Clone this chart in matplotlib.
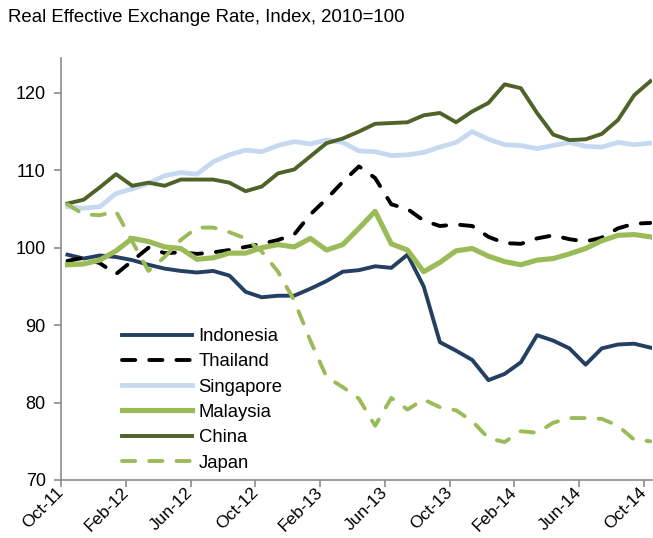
import numpy as np
import matplotlib
matplotlib.use("Agg")
import matplotlib.pyplot as plt

plt.rcParams["font.family"] = ["Liberation Sans", "DejaVu Sans"]

# monthly index values, Oct-11 .. Oct-14
tick_labels = ["Oct-11", "Feb-12", "Jun-12", "Oct-12", "Feb-13", "Jun-13",
               "Oct-13", "Feb-14", "Jun-14", "Oct-14"]

indonesia = [99.1, 98.6, 99.0, 98.8, 98.4, 97.8, 97.3, 97.0, 96.8, 97.0,
             96.4, 94.3, 93.6, 93.8, 93.8, 94.7, 95.7, 96.9, 97.1, 97.6,
             97.4, 99.1, 95.0, 87.8, 86.7, 85.5, 82.9, 83.7, 85.2, 88.7,
             88.0, 87.0, 84.9, 87.0, 87.5, 87.6, 87.1]
thailand = [98.3, 98.7, 98.0, 96.6, 98.3, 100.0, 99.3, 99.4, 99.2, 99.4,
            99.7, 100.1, 100.5, 101.0, 101.7, 104.3, 106.3, 108.5, 110.5, 109.0,
            105.6, 105.0, 103.5, 102.8, 103.0, 102.8, 101.4, 100.6, 100.5, 101.2,
            101.6, 101.1, 100.8, 101.3, 102.5, 103.1, 103.2]
singapore = [105.3, 105.1, 105.3, 107.0, 107.6, 108.3, 109.3, 109.7, 109.5, 111.1,
             112.0, 112.6, 112.4, 113.2, 113.7, 113.4, 113.9, 113.6, 112.5, 112.4,
             111.9, 112.0, 112.3, 113.0, 113.6, 115.0, 114.0, 113.3, 113.2, 112.8,
             113.2, 113.6, 113.1, 113.0, 113.6, 113.3, 113.5]
malaysia = [97.8, 97.9, 98.4, 99.6, 101.2, 100.8, 100.1, 99.9, 98.5, 98.7,
            99.3, 99.3, 100.0, 100.4, 100.1, 101.2, 99.7, 100.4, 102.5, 104.7,
            100.5, 99.7, 96.9, 98.1, 99.6, 99.9, 98.9, 98.2, 97.8, 98.4,
            98.6, 99.2, 99.9, 100.9, 101.6, 101.7, 101.4]
china = [105.7, 106.2, 107.8, 109.5, 108.0, 108.4, 108.0, 108.8, 108.8, 108.8,
         108.4, 107.3, 107.9, 109.6, 110.1, 111.8, 113.5, 114.1, 115.0, 116.0,
         116.1, 116.2, 117.1, 117.4, 116.2, 117.6, 118.7, 121.1, 120.6, 117.4,
         114.6, 113.9, 114.0, 114.7, 116.5, 119.7, 121.5]
japan = [105.6, 104.3, 104.2, 104.7, 100.8, 97.0, 98.8, 101.0, 102.6, 102.6,
         102.0, 101.2, 99.5, 96.9, 93.2, 88.0, 83.3, 82.0, 80.5, 77.0,
         80.6, 79.1, 80.4, 79.4, 79.0, 77.6, 75.4, 74.9, 76.3, 76.1,
         77.4, 78.0, 78.0, 77.9, 77.0, 75.2, 75.0]

x = np.arange(len(china)) + 0.4

fig = plt.figure(figsize=(6.53, 5.38), dpi=100)
ax = fig.add_axes([61 / 653, 1 - 480 / 538, 591 / 653, 422 / 538])

ax.plot(x, indonesia, color="#243F60", lw=2.8, label="Indonesia")
ax.plot(x, thailand, color="black", lw=2.8, dashes=(3.4, 3.6),
        dash_capstyle="round", label="Thailand")
ax.plot(x, singapore, color="#C6D9F1", lw=3.4, label="Singapore")
ax.plot(x, malaysia, color="#9BBB59", lw=3.7, label="Malaysia")
ax.plot(x, china, color="#4F6228", lw=2.8, label="China")
ax.plot(x, japan, color="#9BBB59", lw=2.8, dashes=(3.4, 3.6),
        dash_capstyle="round", label="Japan")

ax.set_xlim(0, 36.5)
ax.set_ylim(70, 124.5)
ax.set_xticks(np.arange(0, 37, 4))
ax.set_xticklabels(tick_labels, rotation=45, ha="right", va="center",
                   rotation_mode="anchor", fontsize=12.5)
ax.set_yticks(np.arange(70, 121, 10))

for side in ["top", "right"]:
    ax.spines[side].set_visible(False)
for side in ["left", "bottom"]:
    ax.spines[side].set_color("#8C8C8C")
    ax.spines[side].set_linewidth(1.2)
ax.tick_params(axis="both", colors="#8C8C8C", length=5, width=1.2,
               labelcolor="black")
ax.tick_params(axis="y", pad=6, labelsize=13)
ax.tick_params(axis="x", pad=2)

fig.text(8 / 653, 1 - 18 / 538, "Real Effective Exchange Rate, Index, 2010=100",
         fontsize=13.4, va="center", ha="left")

ax.legend(loc="upper left", bbox_to_anchor=(122 / 653, 1 - 328 / 538),
          bbox_transform=fig.transFigure, frameon=False, fontsize=13.3,
          handlelength=3.8, handletextpad=0.35, labelspacing=0.45,
          borderpad=0, borderaxespad=0)

fig.savefig("out.png", dpi=100)
